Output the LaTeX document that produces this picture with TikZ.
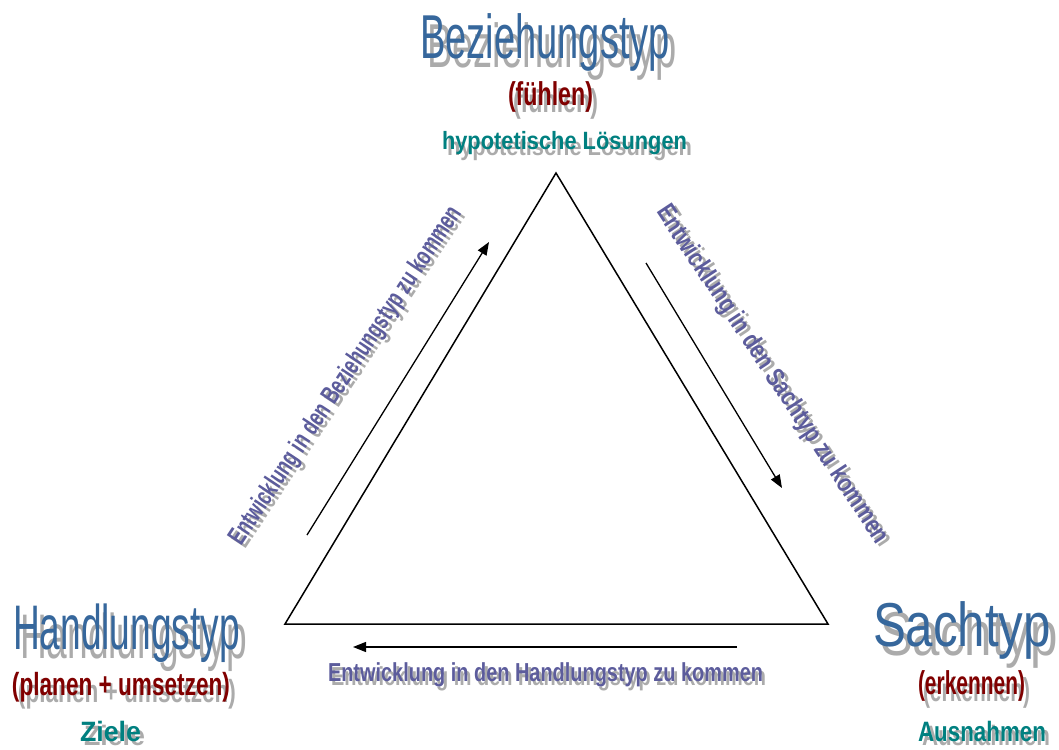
\documentclass[tikz,border=0pt]{standalone}
\usepackage{fontspec}
\setmainfont{Liberation Sans}
\usetikzlibrary{arrows.meta}
\definecolor{titleblue}{HTML}{36679C}
\definecolor{subred}{HTML}{800000}
\definecolor{subteal}{HTML}{008080}
\definecolor{labelblue}{HTML}{5C5C9C}
\definecolor{shadowgray}{HTML}{ABABAB}
\newcommand\fitw[3]{\resizebox{#1}{\height}{\fontsize{#2}{#2}\selectfont #3}}
\tikzset{
  txt/.style={inner sep=0pt, outer sep=0pt, anchor=base west},
  title/.style={txt, text=titleblue},
  titleshadow/.style={txt, text=shadowgray},
  subr/.style={txt, text=subred, font=\bfseries},
  subt/.style={txt, text=subteal, font=\bfseries},
  subshadow/.style={txt, text=shadowgray, font=\bfseries},
  lbl/.style={inner sep=0pt, outer sep=0pt, text=labelblue, font=\bfseries},
  lblshadow/.style={inner sep=0pt, outer sep=0pt, text=shadowgray, font=\bfseries},
  edge/.style={line width=1.5pt, line join=miter},
  flow/.style={line width=1.3pt, -{Triangle[length=13pt,width=10pt]}}
}
\begin{document}
\begin{tikzpicture}[x=1pt,y=-1pt]
\useasboundingbox (0,0) rectangle (1059,749);
% triangle
\coordinate (top) at (556,173);
\coordinate (bl) at (285,624);
\coordinate (br) at (828,624);
\draw[edge] (top) -- (br) -- (bl) -- cycle;
% arrows
\coordinate (la1) at (307,535); \coordinate (la2) at (489,242);
\coordinate (ra1) at (646,263); \coordinate (ra2) at (782,488);
\coordinate (ba1) at (737,647); \coordinate (ba2) at (353,647);
\draw[flow] (la1) -- (la2);
\draw[flow] (ra1) -- (ra2);
\draw[flow] (ba1) -- (ba2);
% top titles
\node[titleshadow] (bezs) at (427,68) {\fitw{250pt}{62}{Beziehungstyp}};
\node[title] (bez) at (420,59) {\fitw{250pt}{62}{Beziehungstyp}};
\node[subshadow] (fuehs) at (513,113) {\fitw{85pt}{33}{(fühlen)}};
\node[subr] (fueh) at (508,106) {\fitw{85pt}{33}{(fühlen)}};
\node[subshadow] (hyps) at (447,155) {\fitw{245pt}{25}{hypotetische Lösungen}};
\node[subt] (hyp) at (442,149) {\fitw{245pt}{25}{hypotetische Lösungen}};
% left titles
\node[titleshadow] (hands) at (20,658) {\fitw{227pt}{63}{Handlungstyp}};
\node[title] (hand) at (13,649) {\fitw{227pt}{63}{Handlungstyp}};
\node[subshadow] (plans) at (18,702) {\fitw{218pt}{32}{(planen + umsetzen)}};
\node[subr] (plan) at (12,695) {\fitw{218pt}{32}{(planen + umsetzen)}};
\node[subshadow] (ziels) at (84,745) {\fitw{61pt}{28}{Ziele}};
\node[subt] (ziel) at (80,741) {\fitw{61pt}{28}{Ziele}};
% right titles
\node[titleshadow] (sachs) at (880,655) {\fitw{178pt}{62}{Sachtyp}};
\node[title] (sach) at (873,646) {\fitw{178pt}{62}{Sachtyp}};
\node[subshadow] (erks) at (923,701) {\fitw{107pt}{33}{(erkennen)}};
\node[subr] (erk) at (918,694) {\fitw{107pt}{33}{(erkennen)}};
\node[subshadow] (auss) at (922,745) {\fitw{128pt}{28}{Ausnahmen}};
\node[subt] (aus) at (918,741) {\fitw{128pt}{28}{Ausnahmen}};
% edge labels
\node[lblshadow, anchor=base west] (bls) at (331,685) {\fitw{435pt}{26}{Entwicklung in den Handlungstyp zu kommen}};
\node[lbl, anchor=base west] (bl1) at (328,681) {\fitw{435pt}{26}{Entwicklung in den Handlungstyp zu kommen}};
\node[lblshadow, rotate=56.5] (lls) at (350,379) {\fitw{400pt}{26}{Entwicklung in den Beziehungstyp zu kommen}};
\node[lbl, rotate=56.5] (ll) at (346,376) {\fitw{400pt}{26}{Entwicklung in den Beziehungstyp zu kommen}};
\node[lblshadow, rotate=-56.5] (rls) at (776,378) {\fitw{400pt}{26}{Entwicklung in den Sachtyp zu kommen}};
\node[lbl, rotate=-56.5] (rl) at (772,375) {\fitw{400pt}{26}{Entwicklung in den Sachtyp zu kommen}};
\end{tikzpicture}
\end{document}
